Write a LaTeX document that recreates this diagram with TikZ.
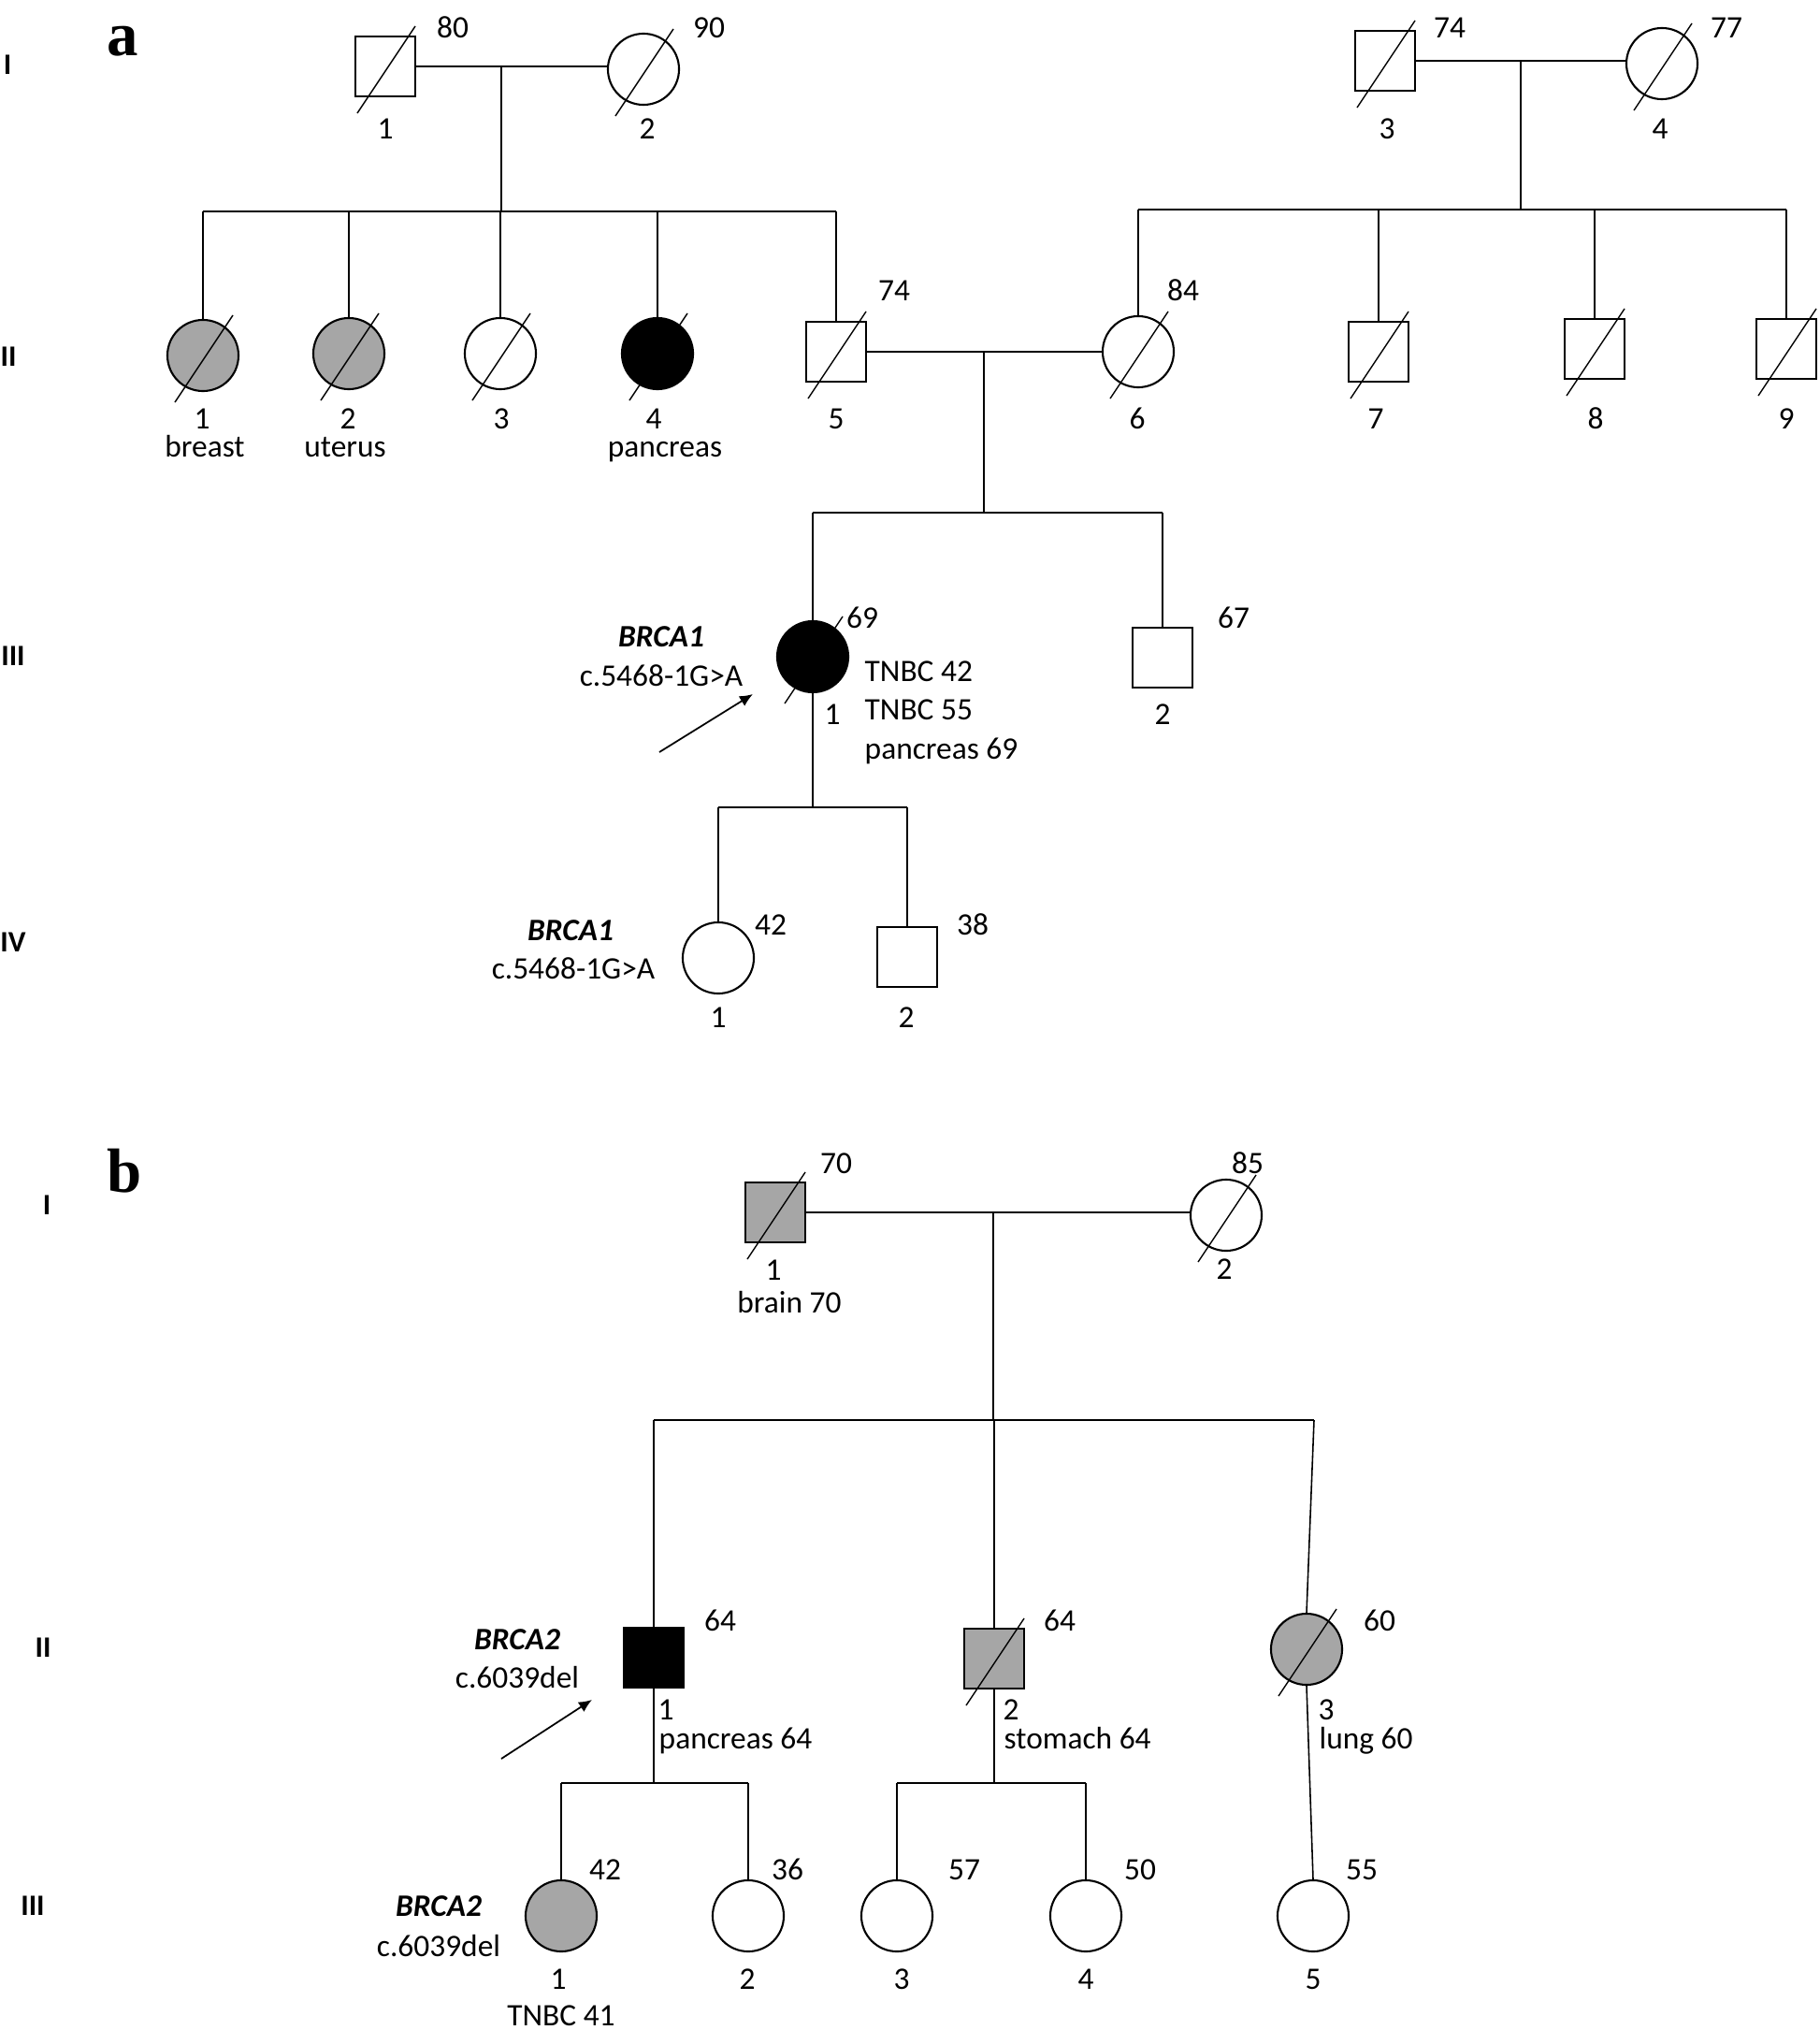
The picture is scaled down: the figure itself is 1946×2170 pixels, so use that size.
\documentclass[tikz,border=0pt]{standalone}
\usepackage{fontspec}
\setmainfont{Carlito}
\newfontfamily\panelfont{Liberation Serif}
\usetikzlibrary{arrows.meta}

\begin{document}
\begin{tikzpicture}[x=0.01cm,y=-0.01cm]
\tikzstyle{sqm}=[rectangle, minimum width=0.64cm, minimum height=0.64cm, inner sep=0, draw=black, line width=0.6pt]
\tikzstyle{sqmg}=[sqm, fill=gray!70]
\tikzstyle{sqmb}=[sqm, fill=black]
\tikzstyle{crf}=[circle, minimum size=0.76cm, inner sep=0, draw=black, line width=0.6pt]
\tikzstyle{crfg}=[crf, fill=gray!70]
\tikzstyle{crfb}=[crf, fill=black]
\tikzstyle{txtonly}=[inner sep=0, text height=0.63em, text depth=0pt, font=\fontsize{9.5}{11}\selectfont]
\tikzstyle{gene}=[txtonly, font=\fontsize{9.5}{11}\selectfont\bfseries\itshape]
\tikzstyle{gen}=[txtonly, font=\fontsize{9}{11}\selectfont\bfseries]
\tikzstyle{panel}=[inner sep=0, font=\fontsize{19}{22}\selectfont\panelfont\bfseries]
\tikzstyle{ln}=[line width=0.45pt]
\tikzstyle{slash}=[line width=0.4pt]
\tikzstyle{proband}=[line width=0.5pt, -{Latex[length=4pt,width=3.5pt]}]
\useasboundingbox (0,0) rectangle (1946,2170);

% ---------- a ----------
\node (pa) [panel] at (131,44) {a};
\node (gaI) [gen] at (8,68) {I};
\node (gaII) [gen] at (9,380) {II};
\node (gaIII) [gen] at (14,700) {III};
\node (gaIV) [gen] at (14,1006) {IV};

\node (aI1) [sqm] at (412,71) {};
\node (aI2) [crf] at (688,74) {};
\node (aI3) [sqm] at (1481,65) {};
\node (aI4) [crf] at (1777,68) {};
\node (aII1) [crfg] at (217,380) {};
\node (aII2) [crfg] at (373,378) {};
\node (aII3) [crf] at (535,378) {};
\node (aII4) [crfb] at (703,378) {};
\node (aII5) [sqm] at (894,376) {};
\node (aII6) [crf] at (1217,376) {};
\node (aII7) [sqm] at (1474,376) {};
\node (aII8) [sqm] at (1705,373) {};
\node (aII9) [sqm] at (1910,373) {};
\node (aIII1) [crfb] at (869,702) {};
\node (aIII2) [sqm] at (1243,703) {};
\node (aIV1) [crf] at (768,1024) {};
\node (aIV2) [sqm] at (970,1023) {};

\coordinate (am1) at (536,71);
\coordinate (as1) at (536,226);
\coordinate (am2) at (1626,65);
\coordinate (as2) at (1626,224);
\coordinate (am3) at (1052,376);
\coordinate (as3) at (1052,548);
\coordinate (as4) at (869,863);
\coordinate (aptail) at (705,804);
\coordinate (aptip) at (805,742);

\draw[ln] (aI1.east) -- (aI1.east -| aI2.west);
\draw[ln] (am1) -- (as1);
\draw[ln] (as1 -| aII1) -- (as1 -| aII5);
\foreach \c in {aII1,aII2,aII3,aII4,aII5}
  \draw[ln] (as1 -| \c) -- (\c.north);
\draw[ln] (aI3.east) -- (aI3.east -| aI4.west);
\draw[ln] (am2) -- (as2);
\draw[ln] (as2 -| aII6) -- (as2 -| aII9);
\foreach \c in {aII6,aII7,aII8,aII9}
  \draw[ln] (as2 -| \c) -- (\c.north);
\draw[ln] (aII5.east) -- (aII6.west);
\draw[ln] (am3) -- (as3);
\draw[ln] (as3 -| aIII1) -- (as3 -| aIII2);
\foreach \c in {aIII1,aIII2}
  \draw[ln] (as3 -| \c) -- (\c.north);
\draw[ln] (aIII1.south) -- (as4);
\draw[ln] (as4 -| aIV1) -- (as4 -| aIV2);
\foreach \c in {aIV1,aIV2}
  \draw[ln] (as4 -| \c) -- (\c.north);
\draw[proband] (aptail) -- (aptip);

\node (taI1a) [txtonly] at (484,29) {80};
\node (taI1n) [txtonly] at (412,137) {1};
\node (taI2a) [txtonly] at (758,29) {90};
\node (taI2n) [txtonly] at (692,137) {2};
\node (taI3a) [txtonly] at (1550,29) {74};
\node (taI3n) [txtonly] at (1483,137) {3};
\node (taI4a) [txtonly] at (1846,29) {77};
\node (taI4n) [txtonly] at (1775,137) {4};
\node (taII1n) [txtonly] at (216,447) {1};
\node (taII1d) [txtonly] at (219,477) {breast};
\node (taII2n) [txtonly] at (372,447) {2};
\node (taII2d) [txtonly] at (369,477) {uterus};
\node (taII3n) [txtonly] at (536,447) {3};
\node (taII4n) [txtonly] at (699,447) {4};
\node (taII4d) [txtonly] at (711,477) {pancreas};
\node (taII5a) [txtonly] at (956,310) {74};
\node (taII5n) [txtonly] at (894,447) {5};
\node (taII6a) [txtonly] at (1265,310) {84};
\node (taII6n) [txtonly] at (1216,447) {6};
\node (taII7n) [txtonly] at (1471,447) {7};
\node (taII8n) [txtonly] at (1706,447) {8};
\node (taII9n) [txtonly] at (1910,447) {9};
\node (taIII1a) [txtonly] at (922,660) {69};
\node (taIII1n) [txtonly] at (890,763) {1};
\node (taIII1d1) [txtonly, anchor=west] at (924,717) {TNBC 42};
\node (taIII1d2) [txtonly, anchor=west] at (924,758) {TNBC 55};
\node (taIII1d3) [txtonly, anchor=west] at (924,800) {pancreas 69};
\node (taIII1g) [gene] at (707,680) {BRCA1};
\node (taIII1v) [txtonly] at (707,722) {c.5468-1G>A};
\node (taIII2a) [txtonly] at (1319,660) {67};
\node (taIII2n) [txtonly] at (1243,763) {2};
\node (taIV1a) [txtonly] at (824,988) {42};
\node (taIV1n) [txtonly] at (768,1087) {1};
\node (taIV1g) [gene] at (610,994) {BRCA1};
\node (taIV1v) [txtonly] at (613,1035) {c.5468-1G>A};
\node (taIV2a) [txtonly] at (1040,988) {38};
\node (taIV2n) [txtonly] at (969,1087) {2};

% ---------- b ----------
\node (pb) [panel] at (133,1252) {b};
\node (gbI) [gen] at (50,1287) {I};
\node (gbII) [gen] at (46,1760) {II};
\node (gbIII) [gen] at (35,2036) {III};

\node (bI1) [sqmg] at (829,1296) {};
\node (bI2) [crf] at (1311,1299) {};
\node (bII1) [sqmb] at (699,1772) {};
\node (bII2) [sqmg] at (1063,1773) {};
\node (bII3) [crfg] at (1397,1763) {};
\node (bIII1) [crfg] at (600,2048) {};
\node (bIII2) [crf] at (800,2048) {};
\node (bIII3) [crf] at (959,2048) {};
\node (bIII4) [crf] at (1161,2048) {};
\node (bIII5) [crf] at (1404,2048) {};

\coordinate (bm1) at (1062,1296);
\coordinate (bs1) at (1062,1518);
\coordinate (bs1r) at (1405,1518);
\coordinate (bs2) at (699,1906);
\coordinate (bs3) at (1063,1906);
\coordinate (bptail) at (536,1880);
\coordinate (bptip) at (633,1817);

\draw[ln] (bI1.east) -- (bI1.east -| bI2.west);
\draw[ln] (bm1) -- (bs1);
\draw[ln] (bs1 -| bII1) -- (bs1r);
\draw[ln] (bs1 -| bII1) -- (bII1.north);
\draw[ln] (bs1 -| bII2) -- (bII2.north);
\draw[ln] (bs1r) -- (bII3.north);
\draw[ln] (bII1.south) -- (bs2);
\draw[ln] (bs2 -| bIII1) -- (bs2 -| bIII2);
\foreach \c in {bIII1,bIII2}
  \draw[ln] (bs2 -| \c) -- (\c.north);
\draw[ln] (bII2.south) -- (bs3);
\draw[ln] (bs3 -| bIII3) -- (bs3 -| bIII4);
\foreach \c in {bIII3,bIII4}
  \draw[ln] (bs3 -| \c) -- (\c.north);
\draw[ln] (bII3.south) -- (bIII5.north);
\draw[proband] (bptail) -- (bptip);

\node (tbI1a) [txtonly] at (894,1243) {70};
\node (tbI1n) [txtonly] at (827,1357) {1};
\node (tbI1d) [txtonly] at (844,1392) {brain 70};
\node (tbI2a) [txtonly] at (1334,1243) {85};
\node (tbI2n) [txtonly] at (1309,1356) {2};
\node (tbII1a) [txtonly] at (770,1732) {64};
\node (tbII1g) [gene] at (553,1752) {BRCA2};
\node (tbII1v) [txtonly] at (553,1793) {c.6039del};
\node (tbII1n) [txtonly] at (712,1827) {1};
\node (tbII1d) [txtonly, anchor=west] at (704,1858) {pancreas 64};
\node (tbII2a) [txtonly] at (1133,1732) {64};
\node (tbII2n) [txtonly] at (1081,1827) {2};
\node (tbII2d) [txtonly, anchor=west] at (1073,1858) {stomach 64};
\node (tbII3a) [txtonly] at (1475,1732) {60};
\node (tbII3n) [txtonly] at (1418,1827) {3};
\node (tbII3d) [txtonly, anchor=west] at (1410,1858) {lung 60};
\node (tbIII1a) [txtonly] at (647,1998) {42};
\node (tbIII1n) [txtonly] at (597,2115) {1};
\node (tbIII1d) [txtonly] at (600,2154) {TNBC 41};
\node (tbIII1g) [gene] at (469,2037) {BRCA2};
\node (tbIII1v) [txtonly] at (469,2080) {c.6039del};
\node (tbIII2a) [txtonly] at (842,1998) {36};
\node (tbIII2n) [txtonly] at (799,2115) {2};
\node (tbIII3a) [txtonly] at (1031,1998) {57};
\node (tbIII3n) [txtonly] at (964,2115) {3};
\node (tbIII4a) [txtonly] at (1219,1998) {50};
\node (tbIII4n) [txtonly] at (1161,2115) {4};
\node (tbIII5a) [txtonly] at (1456,1998) {55};
\node (tbIII5n) [txtonly] at (1404,2115) {5};

% deceased
\foreach \p in {aI1,aI2,aI3,aI4,aII1,aII2,aII3,aII4,aII5,aII6,aII7,aII8,aII9,aIII1,bI1,bI2,bII2,bII3}
  \draw[slash] ([shift={(-30,50)}]\p.center) -- ([shift={(32,-43)}]\p.center);
\end{tikzpicture}
\end{document}
